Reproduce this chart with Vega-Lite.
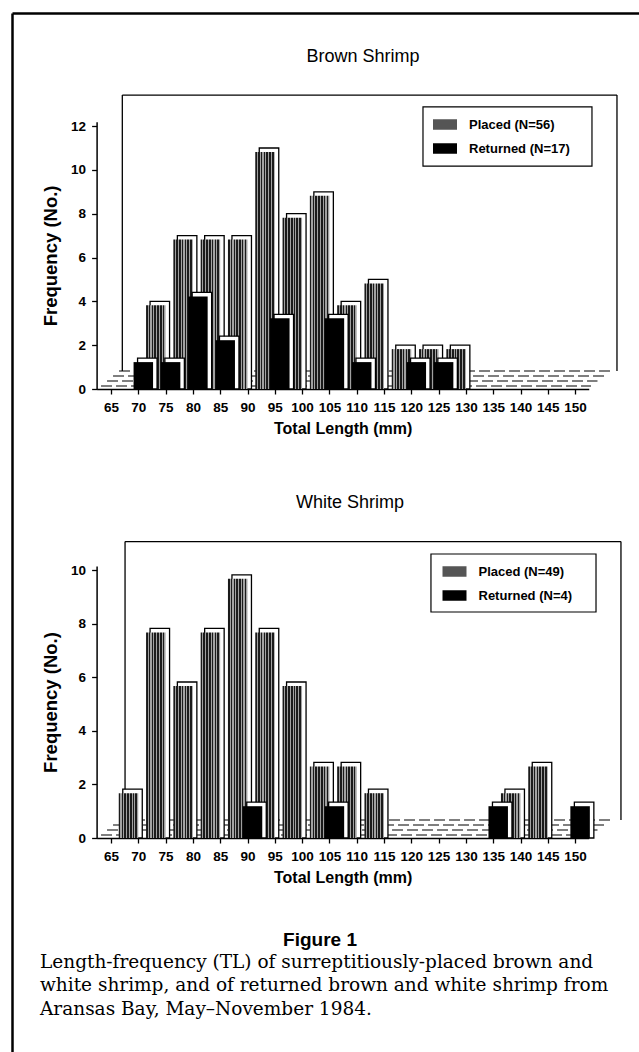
{
  "$schema": "https://vega.github.io/schema/vega-lite/v6.json",
  "width": 627,
  "height": 1039,
  "autosize": "none",
  "padding": {"left": 12, "top": 13, "right": 0, "bottom": 0},
  "background": "white",
  "config": {
    "view": {"stroke": null},
    "axis": {
      "domainColor": "black", "domainWidth": 1.5, "tickColor": "black", "tickWidth": 1.3, "tickSize": 5,
      "labelFont": "Liberation Sans", "labelFontWeight": "bold", "labelFontSize": 13.5, "labelColor": "black",
      "titleFont": "Liberation Sans", "titleFontWeight": "bold", "titleFontSize": 18.5, "titleColor": "black",
      "grid": false, "labelOverlap": false, "labelFlush": false
    },
    "legend": {
      "title": null, "orient": "none", "padding": 0,
      "symbolType": "M-1.6,-0.7H1.6V0.7H-1.6Z", "symbolSize": 225, "symbolStrokeWidth": 0,
      "labelFont": "Liberation Sans", "labelFontWeight": "bold", "labelFontSize": 13, "labelColor": "black",
      "labelOffset": 16.5, "rowPadding": 9
    }
  },
  "datasets": {
    "brown": [
      {"group": "Placed", "label": "Placed (N=56)", "length": 70, "count": 3},
      {"group": "Placed", "label": "Placed (N=56)", "length": 75, "count": 6},
      {"group": "Placed", "label": "Placed (N=56)", "length": 80, "count": 6},
      {"group": "Placed", "label": "Placed (N=56)", "length": 85, "count": 6},
      {"group": "Placed", "label": "Placed (N=56)", "length": 90, "count": 10},
      {"group": "Placed", "label": "Placed (N=56)", "length": 95, "count": 7},
      {"group": "Placed", "label": "Placed (N=56)", "length": 100, "count": 8},
      {"group": "Placed", "label": "Placed (N=56)", "length": 105, "count": 3},
      {"group": "Placed", "label": "Placed (N=56)", "length": 110, "count": 4},
      {"group": "Placed", "label": "Placed (N=56)", "length": 115, "count": 1},
      {"group": "Placed", "label": "Placed (N=56)", "length": 120, "count": 1},
      {"group": "Placed", "label": "Placed (N=56)", "length": 125, "count": 1},
      {"group": "Returned", "label": "Returned (N=17)", "length": 70, "count": 1},
      {"group": "Returned", "label": "Returned (N=17)", "length": 75, "count": 1},
      {"group": "Returned", "label": "Returned (N=17)", "length": 80, "count": 4},
      {"group": "Returned", "label": "Returned (N=17)", "length": 85, "count": 2},
      {"group": "Returned", "label": "Returned (N=17)", "length": 95, "count": 3},
      {"group": "Returned", "label": "Returned (N=17)", "length": 105, "count": 3},
      {"group": "Returned", "label": "Returned (N=17)", "length": 110, "count": 1},
      {"group": "Returned", "label": "Returned (N=17)", "length": 120, "count": 1},
      {"group": "Returned", "label": "Returned (N=17)", "length": 125, "count": 1}
    ],
    "white": [
      {"group": "Placed", "label": "Placed (N=49)", "length": 65, "count": 1},
      {"group": "Placed", "label": "Placed (N=49)", "length": 70, "count": 7},
      {"group": "Placed", "label": "Placed (N=49)", "length": 75, "count": 5},
      {"group": "Placed", "label": "Placed (N=49)", "length": 80, "count": 7},
      {"group": "Placed", "label": "Placed (N=49)", "length": 85, "count": 9},
      {"group": "Placed", "label": "Placed (N=49)", "length": 90, "count": 7},
      {"group": "Placed", "label": "Placed (N=49)", "length": 95, "count": 5},
      {"group": "Placed", "label": "Placed (N=49)", "length": 100, "count": 2},
      {"group": "Placed", "label": "Placed (N=49)", "length": 105, "count": 2},
      {"group": "Placed", "label": "Placed (N=49)", "length": 110, "count": 1},
      {"group": "Placed", "label": "Placed (N=49)", "length": 135, "count": 1},
      {"group": "Placed", "label": "Placed (N=49)", "length": 140, "count": 2},
      {"group": "Returned", "label": "Returned (N=4)", "length": 90, "count": 1},
      {"group": "Returned", "label": "Returned (N=4)", "length": 105, "count": 1},
      {"group": "Returned", "label": "Returned (N=4)", "length": 135, "count": 1},
      {"group": "Returned", "label": "Returned (N=4)", "length": 150, "count": 1}
    ]
  },
  "layer": [
    {
      "layer": [
        {
          "data": {"values": [{}]},
          "mark": {"type": "rule", "stroke": "black", "strokeWidth": 1.3},
          "encoding": {
            "x": {"datum": 67.07, "type": "quantitative", "scale": {"domain": [62.36, 152.5], "range": [84.6, 576.75], "nice": false, "zero": false, "padding": 0},
              "axis": {"orient": "bottom", "offset": -663, "values": [65, 70, 75, 80, 85, 90, 95, 100, 105, 110, 115, 120, 125, 130, 135, 140, 145, 150], "tickCount": 40, "format": "d", "title": "Total Length (mm)", "titleFontSize": 16, "labelPadding": 6, "titlePadding": 7, "labelFlush": false, "labelOverlap": false}},
            "x2": {"datum": 157.67},
            "y": {"datum": 13.42, "type": "quantitative", "scale": {"domain": [0, 12.2], "range": [376, 108.8], "nice": false, "zero": false, "padding": 0},
              "axis": {"orient": "left", "offset": -84.6, "values": [0, 2, 4, 6, 8, 10, 12], "tickCount": 40, "format": "d", "title": "Frequency (No.)", "labelPadding": 6, "titlePadding": 10, "labelOverlap": false}}
          }
        },
        {
          "data": {"values": [{}]},
          "mark": {"type": "rule", "stroke": "black", "strokeWidth": 1.3},
          "encoding": {
            "x": {"datum": 67.07, "type": "quantitative", "scale": {"domain": [62.36, 152.5], "range": [84.6, 576.75], "nice": false, "zero": false, "padding": 0}},
            "y": {"datum": 0.822, "type": "quantitative", "scale": {"domain": [0, 12.2], "range": [376, 108.8], "nice": false, "zero": false, "padding": 0}},
            "y2": {"datum": 13.42}
          }
        },
        {
          "data": {"values": [{}]},
          "mark": {"type": "rule", "stroke": "black", "strokeWidth": 1.3},
          "encoding": {
            "x": {"datum": 157.67, "type": "quantitative", "scale": {"domain": [62.36, 152.5], "range": [84.6, 576.75], "nice": false, "zero": false, "padding": 0}},
            "y": {"datum": 0.822, "type": "quantitative", "scale": {"domain": [0, 12.2], "range": [376, 108.8], "nice": false, "zero": false, "padding": 0}},
            "y2": {"datum": 13.42}
          }
        },
        {
          "data": {"values": [{}]},
          "mark": {"type": "rect", "fill": "white", "stroke": "black", "strokeWidth": 1.2},
          "encoding": {
            "x": {"datum": 122.14, "type": "quantitative", "scale": {"domain": [62.36, 152.5], "range": [84.6, 576.75], "nice": false, "zero": false, "padding": 0}},
            "x2": {"datum": 153.09},
            "y": {"datum": 12.877, "type": "quantitative", "scale": {"domain": [0, 12.2], "range": [376, 108.8], "nice": false, "zero": false, "padding": 0}},
            "y2": {"datum": 10.18}
          }
        },
        {
          "data": {"values": [{}]},
          "mark": {"type": "rule", "stroke": "black", "strokeWidth": 1.2, "strokeDash": [11, 4]},
          "encoding": {"x": {"datum": 63.17, "type": "quantitative", "scale": {"domain": [62.36, 152.5], "range": [84.6, 576.75], "nice": false, "zero": false, "padding": 0}}, "x2": {"datum": 152.92}, "y": {"datum": 0.137, "type": "quantitative", "scale": {"domain": [0, 12.2], "range": [376, 108.8], "nice": false, "zero": false, "padding": 0}}}
        },
        {
          "data": {"values": [{}]},
          "mark": {"type": "rule", "stroke": "black", "strokeWidth": 1.2, "strokeDash": [11, 4]},
          "encoding": {"x": {"datum": 64.27, "type": "quantitative", "scale": {"domain": [62.36, 152.5], "range": [84.6, 576.75], "nice": false, "zero": false, "padding": 0}}, "x2": {"datum": 154.1}, "y": {"datum": 0.365, "type": "quantitative", "scale": {"domain": [0, 12.2], "range": [376, 108.8], "nice": false, "zero": false, "padding": 0}}}
        },
        {
          "data": {"values": [{}]},
          "mark": {"type": "rule", "stroke": "black", "strokeWidth": 1.2, "strokeDash": [11, 4]},
          "encoding": {"x": {"datum": 65.37, "type": "quantitative", "scale": {"domain": [62.36, 152.5], "range": [84.6, 576.75], "nice": false, "zero": false, "padding": 0}}, "x2": {"datum": 155.3}, "y": {"datum": 0.594, "type": "quantitative", "scale": {"domain": [0, 12.2], "range": [376, 108.8], "nice": false, "zero": false, "padding": 0}}}
        },
        {
          "data": {"values": [{}]},
          "mark": {"type": "rule", "stroke": "black", "strokeWidth": 1.2, "strokeDash": [11, 4]},
          "encoding": {"x": {"datum": 66.47, "type": "quantitative", "scale": {"domain": [62.36, 152.5], "range": [84.6, 576.75], "nice": false, "zero": false, "padding": 0}}, "x2": {"datum": 156.5}, "y": {"datum": 0.822, "type": "quantitative", "scale": {"domain": [0, 12.2], "range": [376, 108.8], "nice": false, "zero": false, "padding": 0}}}
        },
        {
          "data": {"name": "brown"},
          "transform": [{"filter": "datum.group === 'Placed'"}],
          "mark": {"type": "bar", "orient": "vertical", "width": 19.5, "fill": "white", "stroke": "black", "strokeWidth": 1.3, "xOffset": 21.5, "x2Offset": 21.5, "yOffset": -22, "y2Offset": -22},
          "encoding": {
            "x": {"field": "length", "type": "quantitative", "scale": {"domain": [62.36, 152.5], "range": [84.6, 576.75], "nice": false, "zero": false, "padding": 0}},
            "y": {"field": "count", "type": "quantitative", "stack": null, "scale": {"domain": [0, 12.2], "range": [376, 108.8], "nice": false, "zero": false, "padding": 0}}
          }
        },
        {
          "data": {"name": "brown"},
          "transform": [{"filter": "datum.group === 'Placed'"}],
          "mark": {"type": "bar", "orient": "vertical", "width": 19.5, "xOffset": 17.5, "x2Offset": 17.5, "yOffset": -18, "y2Offset": -18,
            "fill": {"gradient": "linear", "x1": 0, "y1": 0, "x2": 1, "y2": 0, "stops": [
              {"offset": 0, "color": "#1a1a1a"}, {"offset": 0.082, "color": "#1a1a1a"}, {"offset": 0.082, "color": "#a0a0a0"}, {"offset": 0.1429, "color": "#a0a0a0"},
              {"offset": 0.1429, "color": "#1a1a1a"}, {"offset": 0.2249, "color": "#1a1a1a"}, {"offset": 0.2249, "color": "#a0a0a0"}, {"offset": 0.2857, "color": "#a0a0a0"},
              {"offset": 0.2857, "color": "#1a1a1a"}, {"offset": 0.3677, "color": "#1a1a1a"}, {"offset": 0.3677, "color": "#a0a0a0"}, {"offset": 0.4286, "color": "#a0a0a0"},
              {"offset": 0.4286, "color": "#1a1a1a"}, {"offset": 0.5106, "color": "#1a1a1a"}, {"offset": 0.5106, "color": "#a0a0a0"}, {"offset": 0.5714, "color": "#a0a0a0"},
              {"offset": 0.5714, "color": "#1a1a1a"}, {"offset": 0.6534, "color": "#1a1a1a"}, {"offset": 0.6534, "color": "#a0a0a0"}, {"offset": 0.7143, "color": "#a0a0a0"},
              {"offset": 0.7143, "color": "#1a1a1a"}, {"offset": 0.7963, "color": "#1a1a1a"}, {"offset": 0.7963, "color": "#a0a0a0"}, {"offset": 0.8571, "color": "#a0a0a0"},
              {"offset": 0.8571, "color": "#1a1a1a"}, {"offset": 0.9391, "color": "#1a1a1a"}, {"offset": 0.9391, "color": "#a0a0a0"}, {"offset": 1, "color": "#a0a0a0"}
            ]}},
          "encoding": {
            "x": {"field": "length", "type": "quantitative", "scale": {"domain": [62.36, 152.5], "range": [84.6, 576.75], "nice": false, "zero": false, "padding": 0}},
            "y": {"field": "count", "type": "quantitative", "stack": null, "scale": {"domain": [0, 12.2], "range": [376, 108.8], "nice": false, "zero": false, "padding": 0}}
          }
        },
        {
          "data": {"name": "brown"},
          "transform": [{"filter": "datum.group === 'Returned'"}],
          "mark": {"type": "bar", "orient": "vertical", "width": 19.5, "fill": "white", "stroke": "black", "strokeWidth": 1.3, "xOffset": 9, "x2Offset": 9, "yOffset": -9, "y2Offset": -9},
          "encoding": {
            "x": {"field": "length", "type": "quantitative", "scale": {"domain": [62.36, 152.5], "range": [84.6, 576.75], "nice": false, "zero": false, "padding": 0}},
            "y": {"field": "count", "type": "quantitative", "stack": null, "scale": {"domain": [0, 12.2], "range": [376, 108.8], "nice": false, "zero": false, "padding": 0}}
          }
        },
        {
          "data": {"name": "brown"},
          "transform": [{"filter": "datum.group === 'Returned'"}],
          "mark": {"type": "bar", "orient": "vertical", "width": 19.5, "xOffset": 5, "x2Offset": 5, "yOffset": -5, "y2Offset": -5},
          "encoding": {
            "x": {"field": "length", "type": "quantitative", "scale": {"domain": [62.36, 152.5], "range": [84.6, 576.75], "nice": false, "zero": false, "padding": 0}},
            "y": {"field": "count", "type": "quantitative", "stack": null, "scale": {"domain": [0, 12.2], "range": [376, 108.8], "nice": false, "zero": false, "padding": 0}},
            "color": {"field": "label", "type": "nominal", "scale": {"domain": ["Placed (N=56)", "Returned (N=17)"], "range": ["#555555", "#000000"]}, "legend": {"legendX": 425.5, "legendY": 104}}
          }
        },
        {
          "data": {"values": [{}]},
          "mark": {"type": "text", "font": "Liberation Sans", "fontSize": 18, "align": "center", "baseline": "middle", "color": "black"},
          "encoding": {
            "x": {"datum": 111.15, "type": "quantitative", "scale": {"domain": [62.36, 152.5], "range": [84.6, 576.75], "nice": false, "zero": false, "padding": 0}},
            "y": {"datum": 15.16, "type": "quantitative", "scale": {"domain": [0, 12.2], "range": [376, 108.8], "nice": false, "zero": false, "padding": 0}},
            "text": {"value": "Brown Shrimp"}
          }
        }
      ]
    },
    {
      "layer": [
        {
          "data": {"values": [{}]},
          "mark": {"type": "rule", "stroke": "black", "strokeWidth": 1.3},
          "encoding": {
            "x": {"datum": 67.57, "type": "quantitative", "scale": {"domain": [62.36, 152.5], "range": [84.6, 576.75], "nice": false, "zero": false, "padding": 0},
              "axis": {"orient": "bottom", "offset": -214, "values": [65, 70, 75, 80, 85, 90, 95, 100, 105, 110, 115, 120, 125, 130, 135, 140, 145, 150], "tickCount": 40, "format": "d", "title": "Total Length (mm)", "titleFontSize": 16, "labelPadding": 6, "titlePadding": 7, "labelFlush": false, "labelOverlap": false}},
            "x2": {"datum": 158.4},
            "y": {"datum": 11.06, "type": "quantitative", "scale": {"domain": [0, 10.15], "range": [825, 553], "nice": false, "zero": false, "padding": 0},
              "axis": {"orient": "left", "offset": -84.6, "values": [0, 2, 4, 6, 8, 10], "tickCount": 40, "format": "d", "title": "Frequency (No.)", "labelPadding": 6, "titlePadding": 10, "labelOverlap": false}}
          }
        },
        {
          "data": {"values": [{}]},
          "mark": {"type": "rule", "stroke": "black", "strokeWidth": 1.3},
          "encoding": {
            "x": {"datum": 67.57, "type": "quantitative", "scale": {"domain": [62.36, 152.5], "range": [84.6, 576.75], "nice": false, "zero": false, "padding": 0}},
            "y": {"datum": 0.672, "type": "quantitative", "scale": {"domain": [0, 10.15], "range": [825, 553], "nice": false, "zero": false, "padding": 0}},
            "y2": {"datum": 11.06}
          }
        },
        {
          "data": {"values": [{}]},
          "mark": {"type": "rule", "stroke": "black", "strokeWidth": 1.3},
          "encoding": {
            "x": {"datum": 158.4, "type": "quantitative", "scale": {"domain": [62.36, 152.5], "range": [84.6, 576.75], "nice": false, "zero": false, "padding": 0}},
            "y": {"datum": 0.672, "type": "quantitative", "scale": {"domain": [0, 10.15], "range": [825, 553], "nice": false, "zero": false, "padding": 0}},
            "y2": {"datum": 11.06}
          }
        },
        {
          "data": {"values": [{}]},
          "mark": {"type": "rect", "fill": "white", "stroke": "black", "strokeWidth": 1.2},
          "encoding": {
            "x": {"datum": 123.6, "type": "quantitative", "scale": {"domain": [62.36, 152.5], "range": [84.6, 576.75], "nice": false, "zero": false, "padding": 0}},
            "x2": {"datum": 153.83},
            "y": {"datum": 10.597, "type": "quantitative", "scale": {"domain": [0, 10.15], "range": [825, 553], "nice": false, "zero": false, "padding": 0}},
            "y2": {"datum": 8.433}
          }
        },
        {
          "data": {"values": [{}]},
          "mark": {"type": "rule", "stroke": "black", "strokeWidth": 1.2, "strokeDash": [11, 4]},
          "encoding": {"x": {"datum": 63.17, "type": "quantitative", "scale": {"domain": [62.36, 152.5], "range": [84.6, 576.75], "nice": false, "zero": false, "padding": 0}}, "x2": {"datum": 152.92}, "y": {"datum": 0.112, "type": "quantitative", "scale": {"domain": [0, 10.15], "range": [825, 553], "nice": false, "zero": false, "padding": 0}}}
        },
        {
          "data": {"values": [{}]},
          "mark": {"type": "rule", "stroke": "black", "strokeWidth": 1.2, "strokeDash": [11, 4]},
          "encoding": {"x": {"datum": 64.27, "type": "quantitative", "scale": {"domain": [62.36, 152.5], "range": [84.6, 576.75], "nice": false, "zero": false, "padding": 0}}, "x2": {"datum": 154.1}, "y": {"datum": 0.299, "type": "quantitative", "scale": {"domain": [0, 10.15], "range": [825, 553], "nice": false, "zero": false, "padding": 0}}}
        },
        {
          "data": {"values": [{}]},
          "mark": {"type": "rule", "stroke": "black", "strokeWidth": 1.2, "strokeDash": [11, 4]},
          "encoding": {"x": {"datum": 65.37, "type": "quantitative", "scale": {"domain": [62.36, 152.5], "range": [84.6, 576.75], "nice": false, "zero": false, "padding": 0}}, "x2": {"datum": 155.3}, "y": {"datum": 0.485, "type": "quantitative", "scale": {"domain": [0, 10.15], "range": [825, 553], "nice": false, "zero": false, "padding": 0}}}
        },
        {
          "data": {"values": [{}]},
          "mark": {"type": "rule", "stroke": "black", "strokeWidth": 1.2, "strokeDash": [11, 4]},
          "encoding": {"x": {"datum": 66.47, "type": "quantitative", "scale": {"domain": [62.36, 152.5], "range": [84.6, 576.75], "nice": false, "zero": false, "padding": 0}}, "x2": {"datum": 156.5}, "y": {"datum": 0.672, "type": "quantitative", "scale": {"domain": [0, 10.15], "range": [825, 553], "nice": false, "zero": false, "padding": 0}}}
        },
        {
          "data": {"name": "white"},
          "transform": [{"filter": "datum.group === 'Placed'"}],
          "mark": {"type": "bar", "orient": "vertical", "width": 19.5, "fill": "white", "stroke": "black", "strokeWidth": 1.3, "xOffset": 21.5, "x2Offset": 21.5, "yOffset": -22, "y2Offset": -22},
          "encoding": {
            "x": {"field": "length", "type": "quantitative", "scale": {"domain": [62.36, 152.5], "range": [84.6, 576.75], "nice": false, "zero": false, "padding": 0}},
            "y": {"field": "count", "type": "quantitative", "stack": null, "scale": {"domain": [0, 10.15], "range": [825, 553], "nice": false, "zero": false, "padding": 0}}
          }
        },
        {
          "data": {"name": "white"},
          "transform": [{"filter": "datum.group === 'Placed'"}],
          "mark": {"type": "bar", "orient": "vertical", "width": 19.5, "xOffset": 17.5, "x2Offset": 17.5, "yOffset": -18, "y2Offset": -18,
            "fill": {"gradient": "linear", "x1": 0, "y1": 0, "x2": 1, "y2": 0, "stops": [
              {"offset": 0, "color": "#1a1a1a"}, {"offset": 0.082, "color": "#1a1a1a"}, {"offset": 0.082, "color": "#a0a0a0"}, {"offset": 0.1429, "color": "#a0a0a0"},
              {"offset": 0.1429, "color": "#1a1a1a"}, {"offset": 0.2249, "color": "#1a1a1a"}, {"offset": 0.2249, "color": "#a0a0a0"}, {"offset": 0.2857, "color": "#a0a0a0"},
              {"offset": 0.2857, "color": "#1a1a1a"}, {"offset": 0.3677, "color": "#1a1a1a"}, {"offset": 0.3677, "color": "#a0a0a0"}, {"offset": 0.4286, "color": "#a0a0a0"},
              {"offset": 0.4286, "color": "#1a1a1a"}, {"offset": 0.5106, "color": "#1a1a1a"}, {"offset": 0.5106, "color": "#a0a0a0"}, {"offset": 0.5714, "color": "#a0a0a0"},
              {"offset": 0.5714, "color": "#1a1a1a"}, {"offset": 0.6534, "color": "#1a1a1a"}, {"offset": 0.6534, "color": "#a0a0a0"}, {"offset": 0.7143, "color": "#a0a0a0"},
              {"offset": 0.7143, "color": "#1a1a1a"}, {"offset": 0.7963, "color": "#1a1a1a"}, {"offset": 0.7963, "color": "#a0a0a0"}, {"offset": 0.8571, "color": "#a0a0a0"},
              {"offset": 0.8571, "color": "#1a1a1a"}, {"offset": 0.9391, "color": "#1a1a1a"}, {"offset": 0.9391, "color": "#a0a0a0"}, {"offset": 1, "color": "#a0a0a0"}
            ]}},
          "encoding": {
            "x": {"field": "length", "type": "quantitative", "scale": {"domain": [62.36, 152.5], "range": [84.6, 576.75], "nice": false, "zero": false, "padding": 0}},
            "y": {"field": "count", "type": "quantitative", "stack": null, "scale": {"domain": [0, 10.15], "range": [825, 553], "nice": false, "zero": false, "padding": 0}}
          }
        },
        {
          "data": {"name": "white"},
          "transform": [{"filter": "datum.group === 'Returned'"}],
          "mark": {"type": "bar", "orient": "vertical", "width": 19.5, "fill": "white", "stroke": "black", "strokeWidth": 1.3, "xOffset": 9, "x2Offset": 9, "yOffset": -9, "y2Offset": -9},
          "encoding": {
            "x": {"field": "length", "type": "quantitative", "scale": {"domain": [62.36, 152.5], "range": [84.6, 576.75], "nice": false, "zero": false, "padding": 0}},
            "y": {"field": "count", "type": "quantitative", "stack": null, "scale": {"domain": [0, 10.15], "range": [825, 553], "nice": false, "zero": false, "padding": 0}}
          }
        },
        {
          "data": {"name": "white"},
          "transform": [{"filter": "datum.group === 'Returned'"}],
          "mark": {"type": "bar", "orient": "vertical", "width": 19.5, "xOffset": 5, "x2Offset": 5, "yOffset": -5, "y2Offset": -5},
          "encoding": {
            "x": {"field": "length", "type": "quantitative", "scale": {"domain": [62.36, 152.5], "range": [84.6, 576.75], "nice": false, "zero": false, "padding": 0}},
            "y": {"field": "count", "type": "quantitative", "stack": null, "scale": {"domain": [0, 10.15], "range": [825, 553], "nice": false, "zero": false, "padding": 0}},
            "color": {"field": "label", "type": "nominal", "scale": {"domain": ["Placed (N=49)", "Returned (N=4)"], "range": ["#555555", "#000000"]}, "legend": {"legendX": 435, "legendY": 551}}
          }
        },
        {
          "data": {"values": [{}]},
          "mark": {"type": "text", "font": "Liberation Sans", "fontSize": 18, "align": "center", "baseline": "middle", "color": "black"},
          "encoding": {
            "x": {"datum": 108.77, "type": "quantitative", "scale": {"domain": [62.36, 152.5], "range": [84.6, 576.75], "nice": false, "zero": false, "padding": 0}},
            "y": {"datum": 12.5, "type": "quantitative", "scale": {"domain": [0, 10.15], "range": [825, 553], "nice": false, "zero": false, "padding": 0}},
            "text": {"value": "White Shrimp"}
          }
        },
        {
          "data": {"values": [{}]},
          "mark": {"type": "text", "font": "Liberation Sans", "fontSize": 19, "fontWeight": "bold", "align": "center", "baseline": "middle", "color": "black"},
          "encoding": {
            "x": {"datum": 103.28, "type": "quantitative", "scale": {"domain": [62.36, 152.5], "range": [84.6, 576.75], "nice": false, "zero": false, "padding": 0}},
            "y": {"datum": -3.806, "type": "quantitative", "scale": {"domain": [0, 10.15], "range": [825, 553], "nice": false, "zero": false, "padding": 0}},
            "text": {"value": "Figure 1"}
          }
        },
        {
          "data": {"values": [{}]},
          "mark": {"type": "text", "font": "DejaVu Serif", "fontSize": 18.5, "align": "left", "baseline": "alphabetic", "lineHeight": 23.5, "color": "black"},
          "encoding": {
            "x": {"datum": 51.99, "type": "quantitative", "scale": {"domain": [62.36, 152.5], "range": [84.6, 576.75], "nice": false, "zero": false, "padding": 0}},
            "y": {"datum": -4.85, "type": "quantitative", "scale": {"domain": [0, 10.15], "range": [825, 553], "nice": false, "zero": false, "padding": 0}},
            "text": {"value": ["Length-frequency (TL) of surreptitiously-placed brown and", "white shrimp, and of returned brown and white shrimp from", "Aransas Bay, May–November 1984."]}
          }
        }
      ]
    },
    {
      "data": {"values": [{}]},
      "mark": {"type": "point", "opacity": 0},
      "encoding": {
        "x": {"datum": 0, "type": "quantitative", "scale": {"domain": [0, 1]}, "axis": {"orient": "top", "domainWidth": 2.5, "ticks": false, "labels": false, "title": null, "offset": 0}},
        "y": {"datum": 0, "type": "quantitative", "scale": {"domain": [0, 1]}, "axis": {"orient": "left", "domainWidth": 2.5, "ticks": false, "labels": false, "title": null, "offset": 0}}
      }
    }
  ],
  "resolve": {
    "scale": {"x": "independent", "y": "independent", "color": "independent"},
    "axis": {"x": "independent", "y": "independent"},
    "legend": {"color": "independent"}
  }
}
